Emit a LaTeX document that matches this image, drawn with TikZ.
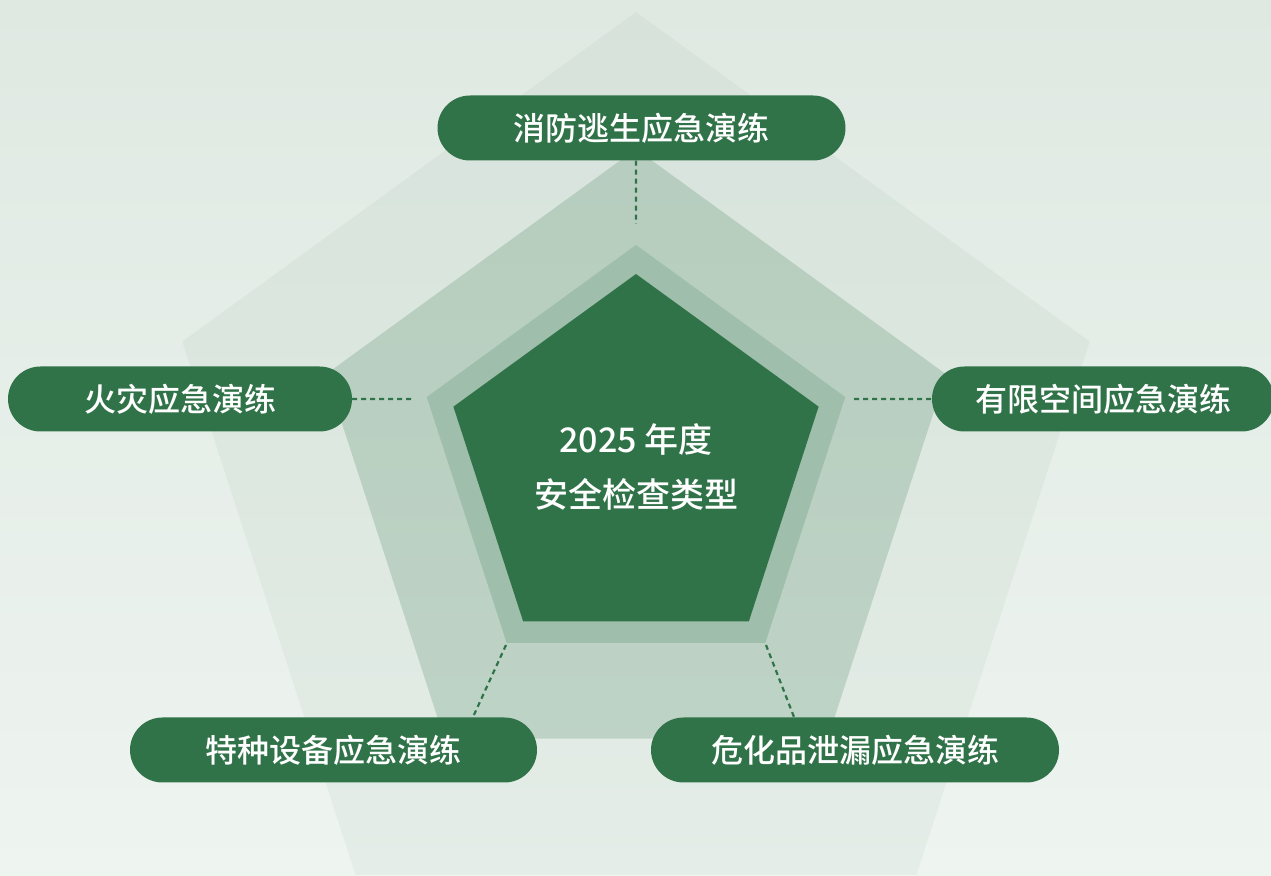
\documentclass[tikz,border=0pt]{standalone}
\usepackage{fontspec}
\setmainfont{Noto Sans CJK SC}[UprightFont=* Medium]
\usepackage{tikz}
\usetikzlibrary{positioning,calc}

\definecolor{deepgreen}{HTML}{317349}
\definecolor{ringgreen}{HTML}{9FBEAB}
\definecolor{bgtop}{HTML}{DFE9E2}
\definecolor{bgbot}{HTML}{EEF4F0}

\begin{document}
\begin{tikzpicture}
	[x=1pt,y=1pt,
		drill node/.style={rectangle,rounded corners=32.5pt,fill=deepgreen,text=white,minimum height=65pt,inner sep=0pt,font=\fontsize{32}{36}\selectfont},
		core node/.style={text=white,align=center,font=\fontsize{34}{55}\selectfont},
		link line/.style={draw=deepgreen,line width=2.2pt,dash pattern=on 5pt off 4pt}]

	% background
	\shade[top color=bgtop,bottom color=bgbot] (0,0) rectangle (1271,875);
	\useasboundingbox (0,0) rectangle (1271,875);

	% pentagons, outside in
	\fill[deepgreen,opacity=0.05] ($(636,386)+(90:477)$) \foreach \a in {162,234,306,18} {-- ($(636,386)+(\a:477)$)} -- cycle;
	\fill[deepgreen,opacity=0.2] ($(636,400)+(90:326)$) \foreach \a in {162,234,306,18} {-- ($(636,400)+(\a:326)$)} -- cycle;
	\fill[ringgreen] ($(636,410)+(90:220)$) \foreach \a in {162,234,306,18} {-- ($(636,410)+(\a:220)$)} -- cycle;
	\fill[deepgreen] ($(636,409)+(90:192)$) \foreach \a in {162,234,306,18} {-- ($(636,409)+(\a:192)$)} -- cycle;

	\node[core node] (core) at (636,408) {2025 年度\\安全检查类型};

	\node[drill node,minimum width=408pt] (fire) at (641.5,747) {消防逃生应急演练};
	\node[drill node,minimum width=344pt] (blaze) at (180,476) {火灾应急演练};
	\node[drill node,minimum width=342pt] (space) at (1103,476) {有限空间应急演练};
	\node[drill node,minimum width=407pt] (equip) at (333.5,125) {特种设备应急演练};
	\node[drill node,minimum width=408pt] (chem) at (855,125) {危化品泄漏应急演练};

	\coordinate (c-top) at (636,651);
	\coordinate (c-left) at (412,476);
	\coordinate (c-right) at (854,476);
	\coordinate (c-bl) at (506,230);
	\coordinate (c-blend) at (473,158);
	\coordinate (c-br) at (766,230);
	\coordinate (c-brend) at (794,158);

	\path[link line]
	(fire.south -| c-top) -- (c-top)
	(blaze.east) -- (c-left)
	(c-right) -- (space.west)
	(c-bl) -- (c-blend)
	(c-br) -- (c-brend)
	;
\end{tikzpicture}
\end{document}
